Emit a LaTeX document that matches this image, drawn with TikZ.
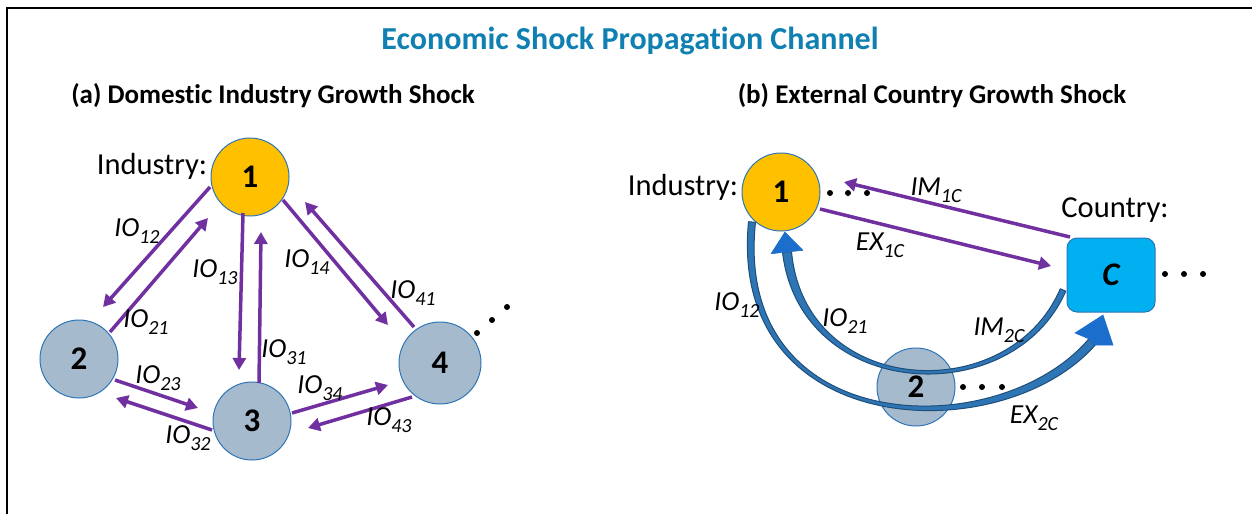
\documentclass[tikz,border=0pt]{standalone}
\usepackage{fontspec}
\setmainfont{Carlito}[Ligatures=NoCommon]
\usetikzlibrary{arrows.meta,calc}
\definecolor{titleblue}{RGB}{16,128,178}
\definecolor{ppl}{RGB}{112,48,160}
\definecolor{orng}{RGB}{255,192,0}
\definecolor{nodegray}{RGB}{166,186,205}
\definecolor{edgeblue}{RGB}{46,117,182}
\definecolor{cyanbox}{RGB}{0,176,240}
\definecolor{curvefill}{RGB}{46,117,182}
\definecolor{curveedge}{RGB}{31,78,121}
\definecolor{headblue}{RGB}{28,110,205}
\newcommand{\iolab}[2]{#1\raisebox{-0.25em}{\fontsize{20}{20}\selectfont #2}}
\begin{document}
\begin{tikzpicture}[x=1pt,y=-1pt,
  lnode/.style={circle, draw=edgeblue, line width=1pt, minimum size=78pt, inner sep=0pt, font=\bfseries\fontsize{33}{38}\selectfont},
  onode/.style={lnode, fill=orng},
  gnode/.style={lnode, fill=nodegray},
  cbox/.style={rectangle, rounded corners=10pt, draw=edgeblue, line width=1pt, fill=cyanbox, minimum width=88pt, minimum height=74pt, inner sep=0pt, font=\bfseries\itshape\fontsize{33}{38}\selectfont},
  parr/.style={draw=ppl, line width=3.5pt, -{Triangle[length=12pt,width=13pt]}},
  lab/.style={inner sep=0pt, font=\itshape\fontsize{27.5}{30}\selectfont},
  plain/.style={inner sep=0pt, font=\fontsize{30.5}{34}\selectfont},
  sub/.style={inner sep=0pt, font=\bfseries\fontsize{27}{31}\selectfont},
  curve/.style={fill=curvefill, draw=curveedge, line width=1pt, line join=round},
  chead/.style={fill=headblue, draw=headblue, line width=0.6pt, line join=round},
  dotc/.style={fill=black}
]
\useasboundingbox (0,0) rectangle (1252,514);
% frame (top and left)
\draw[line width=2pt] (6.8,514) -- (6.8,7.7) -- (1252,7.7);

% titles
\node[inner sep=0pt, text=titleblue, font=\bfseries\fontsize{32}{38}\selectfont] (title) at (630,41) {Economic Shock Propagation Channel};
\node[sub] (suba) at (273,96) {(a) Domestic Industry Growth Shock};
\node[sub] (subb) at (932,96) {(b) External Country Growth Shock};

% ---------- panel (a) ----------
\node[onode] (n1) at (250,177) {1};
\node[gnode] (n2) at (79,359) {2};
\node[gnode] (n3) at (252,421) {3};
\node[gnode, minimum size=82pt] (n4) at (440,363) {4};
\node[plain] (indA) at (152,166) {Industry:};

\draw[parr] ($(n1)+(-40,10)$) -- ($(n2)+(24,-52)$);
\draw[parr] ($(n2)+(31,-27)$) -- ($(n1)+(-42,41)$);
\draw[parr] ($(n1)+(-7,36)$) -- ($(n3)+(-13,-51)$);
\draw[parr] ($(n3)+(7,-38)$) -- ($(n1)+(11,55)$);
\draw[parr] ($(n1)+(33,23)$) -- ($(n4)+(-52,-38)$);
\draw[parr] ($(n4)+(-26,-36)$) -- ($(n1)+(55,25)$);
\draw[parr] ($(n2)+(36,21)$) -- ($(n3)+(-54,-13)$);
\draw[parr] ($(n3)+(-40,9)$) -- ($(n2)+(37,39)$);
\draw[parr] ($(n3)+(40,-8)$) -- ($(n4)+(-52,22)$);
\draw[parr] ($(n4)+(-28,34)$) -- ($(n3)+(56,7)$);

\node[lab] (l12) at (137,231) {\iolab{IO}{12}};
\node[lab] (l21) at (146,322) {\iolab{IO}{21}};
\node[lab] (l13) at (215,272) {\iolab{IO}{13}};
\node[lab] (l31) at (284,352) {\iolab{IO}{31}};
\node[lab] (l14) at (307,262) {\iolab{IO}{14}};
\node[lab] (l41) at (413,293) {\iolab{IO}{41}};
\node[lab] (l23) at (158,378) {\iolab{IO}{23}};
\node[lab] (l32) at (188,438) {\iolab{IO}{32}};
\node[lab] (l34) at (320,388) {\iolab{IO}{34}};
\node[lab] (l43) at (389,420) {\iolab{IO}{43}};

\fill[dotc] (477,333) circle (3) (492,320) circle (3) (507,307) circle (3);

% ---------- panel (b) ----------
\node[onode] (r1) at (781,192) {1};
\node[gnode] (r2) at (916,387) {2};
\node[cbox] (cc) at (1111,275) {C};
\node[plain] (indB) at (683,187) {Industry:};
\node[plain] (cty) at (1115,210) {Country:};

\fill[dotc] (830,193) circle (3) (848,193) circle (3) (867,193) circle (3);
\fill[dotc] (1165,274) circle (3) (1184,274) circle (3) (1203,274) circle (3);
\fill[dotc] (963,387) circle (3) (982,387) circle (3) (1002,387) circle (3);

\draw[parr] ($(cc)+(-41,-38)$) -- ($(r1)+(63,-10)$);
\draw[parr] ($(r1)+(39,17)$) -- ($(cc)+(-60,-9)$);

% outer curve: 1 -> 2 -> C
\path[curve] (748.5,221.7) .. controls (727.5,441) and (1001.5,451) .. (1095.1,345.2)
  -- (1088.9,338.8)
  .. controls (998.5,445) and (732.5,439) .. (755.5,222.3) -- cycle;
\path[chead] (1095.1,345.2) -- (1113,345) -- (1103,315) -- (1075,333) -- (1088.9,338.8) -- cycle;
% inner curve: C -> 2 -> 1
\path[curve] (1065.75,291.2) .. controls (1013,412) and (801,402) .. (782.5,252.5)
  -- (791.5,251.5)
  .. controls (805,398) and (1009,408) .. (1060.25,288.8) -- cycle;
\path[chead] (782.5,252.5) -- (771.1,253.7) -- (784.9,232.1) -- (802.9,250.3) -- (791.5,251.5) -- cycle;

\node[lab] (m1c) at (936,190) {\iolab{IM}{1C}};
\node[lab] (e1c) at (880,245) {\iolab{EX}{1C}};
\node[lab] (r12) at (737,305) {\iolab{IO}{12}};
\node[lab] (r21) at (845,321) {\iolab{IO}{21}};
\node[lab] (m2c) at (999,330) {\iolab{IM}{2C}};
\node[lab] (e2c) at (1034,418) {\iolab{EX}{2C}};
\end{tikzpicture}
\end{document}
